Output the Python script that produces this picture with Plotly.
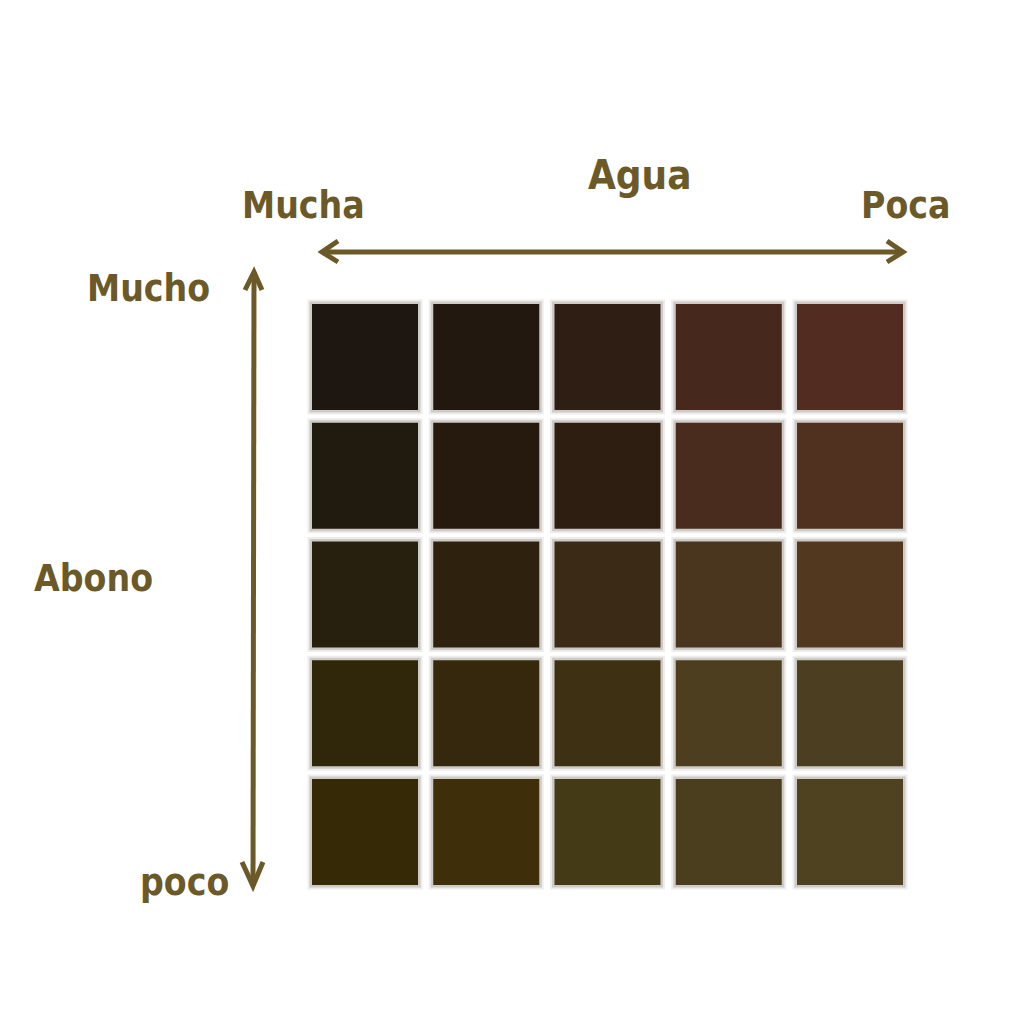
import plotly.graph_objects as go

# Data
water_levels = ["Mucha", "", "", "", "Poca"]          # columns: left = mucha agua, right = poca agua
fertilizer_levels = ["Mucho", "", "", "", "poco"]     # rows: top = mucho abono, bottom = poco abono
colors_row1 = ["#1e1610", "#221810", "#2e1e14", "#47281c", "#522c20"]
colors_row2 = ["#211a0e", "#261a0e", "#2e1e12", "#4a2c1e", "#50301e"]
colors_row3 = ["#28200e", "#2e220e", "#3a2a16", "#4a361e", "#52381e"]
colors_row4 = ["#30260a", "#36280c", "#3e3012", "#4c3e1e", "#4c3e20"]
colors_row5 = ["#362a06", "#3e2e0a", "#443a16", "#4a3e1e", "#4e4220"]
color_rows = [colors_row1, colors_row2, colors_row3, colors_row4, colors_row5]

W = H = 1030
OFF = 8  # page body margin
INK = "#6b5a28"
FONT = "DejaVu Sans Condensed"

xs, ys, cs = [], [], []
for r, row in enumerate(color_rows):
    for c, col in enumerate(row):
        xs.append(c)
        ys.append(r)
        cs.append(col)

fig = go.Figure()
# soft shadow
fig.add_trace(go.Scatter(x=xs, y=ys, mode="markers", hoverinfo="skip",
                         marker=dict(symbol="square", size=115, color="rgba(120,110,100,0.12)",
                                     line=dict(width=0))))
fig.add_trace(go.Scatter(x=xs, y=ys, mode="markers", hoverinfo="skip",
                         marker=dict(symbol="square", size=111, color="rgba(90,80,70,0.22)",
                                     line=dict(width=0))))
fig.add_trace(go.Scatter(x=xs, y=ys, mode="markers",
                         marker=dict(symbol="square", size=106, color=cs,
                                     line=dict(width=0))))

# axis mapping: col centers at px 365..850, row centers at px 357..832 (page pixels)
x0p, xpitch = 365 - OFF, 121.25
y0p, ypitch = 357 - OFF, 118.75
fig.update_xaxes(range=[-x0p / xpitch, (W - x0p) / xpitch], visible=False, fixedrange=True)
fig.update_yaxes(range=[(H - y0p) / ypitch, -y0p / ypitch], visible=False, fixedrange=True)


def px(x):
    return (x - OFF) / W


def py(y):
    return 1 - (y - OFF) / H


line = dict(color=INK, width=5)
shapes = []
# horizontal arrow
shapes.append(dict(type="line", xref="paper", yref="paper", x0=px(322), y0=py(252), x1=px(903), y1=py(252), line=line))
shapes.append(dict(type="path", xref="paper", yref="paper",
                   path=f"M {px(338)} {py(241)} L {px(322)} {py(252)} L {px(338)} {py(262)}", line=line))
shapes.append(dict(type="path", xref="paper", yref="paper",
                   path=f"M {px(887)} {py(241)} L {px(903)} {py(252)} L {px(887)} {py(262)}", line=line))
# vertical arrow
shapes.append(dict(type="line", xref="paper", yref="paper", x0=px(254), y0=py(272), x1=px(253), y1=py(886), line=line))
shapes.append(dict(type="path", xref="paper", yref="paper",
                   path=f"M {px(245)} {py(290)} L {px(254)} {py(272)} L {px(262)} {py(290)}", line=line))
shapes.append(dict(type="path", xref="paper", yref="paper",
                   path=f"M {px(242)} {py(862)} L {px(253)} {py(886)} L {px(263)} {py(862)}", line=line))


def label(text, x, y, size):
    return dict(text=text, xref="paper", yref="paper", x=px(x), y=py(y), showarrow=False,
                xanchor="center", yanchor="middle",
                font=dict(family=FONT, size=size, color=INK, weight="bold"))


annotations = [
    label("Agua", 640, 175, 40),
    label(water_levels[0], 303, 205, 37),
    label(water_levels[-1], 905, 205, 37),
    label(fertilizer_levels[0], 148, 288, 37),
    label("Abono", 93, 578, 37),
    label(fertilizer_levels[-1], 184, 882, 37),
]

fig.update_layout(width=W, height=H, margin=dict(l=0, r=0, t=0, b=0),
                  paper_bgcolor="white", plot_bgcolor="white", showlegend=False,
                  shapes=shapes, annotations=annotations)

fig.write_html("out.html")
